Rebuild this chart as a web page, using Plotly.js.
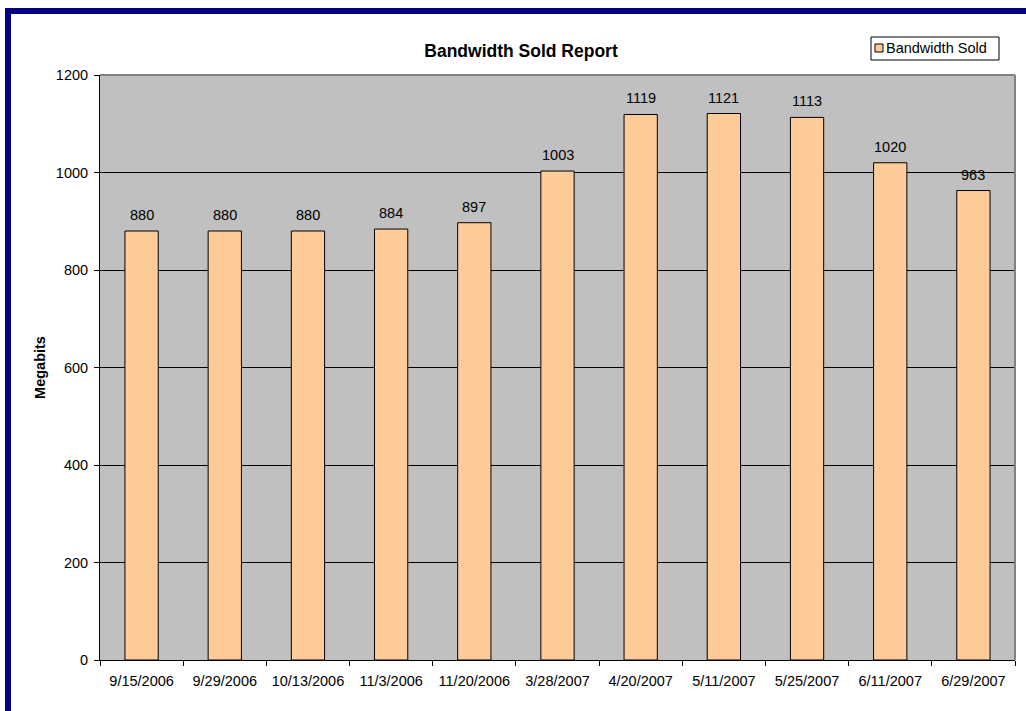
<!DOCTYPE html>
<html>
<head>
<meta charset="utf-8">
<script src="https://cdn.plot.ly/plotly-3.0.1.min.js"></script>
<style>
  html, body { margin: 0; padding: 0; background: #ffffff; }
  #wrap { position: relative; width: 1026px; height: 711px; overflow: hidden; }
  #chart { position: absolute; left: 0; top: 0; width: 1026px; height: 711px; }
  #frame { position: absolute; left: 5px; top: 8px; width: 1040px; height: 720px;
           border-left: 6px solid #000080; border-top: 6px solid #000080; pointer-events: none; }
</style>
</head>
<body>
<div id="wrap">
  <div id="chart"></div>
  <div id="frame"></div>
</div>
<script>
const categories = ["9/15/2006","9/29/2006","10/13/2006","11/3/2006","11/20/2006","3/28/2007","4/20/2007","5/11/2007","5/25/2007","6/11/2007","6/29/2007"];
const bandwidthSold = [880, 880, 880, 884, 897, 1003, 1119, 1121, 1113, 1020, 963];
const seriesName = "Bandwidth Sold";
const chartTitle = "Bandwidth Sold Report";
const yTitle = "Megabits";

const font = "Liberation Sans, Arial, sans-serif";
const barColor = "#FFCC99";

// plot area in pixels: left 100, right 1015, top 75, bottom 660
const px = v => (v - 100) / 915;
const py = v => (660 - v) / 585;

const trace = {
  type: "bar",
  x: categories,
  y: bandwidthSold,
  name: seriesName,
  marker: { color: barColor, line: { color: "#000000", width: 1 } },
  hoverinfo: "x+y",
  showlegend: false
};

const valueLabels = categories.map((c, i) => ({
  x: c, y: bandwidthSold[i], xref: "x", yref: "y",
  text: String(bandwidthSold[i]),
  showarrow: false, xanchor: "center", yanchor: "bottom", yshift: 6,
  font: { family: font, size: 14.5, color: "#000000" }
}));

const legendText = {
  xref: "paper", yref: "paper", x: px(884), y: py(48.5),
  xanchor: "left", yanchor: "middle", showarrow: false,
  text: seriesName, font: { family: font, size: 14.5, color: "#000000" }
};

const layout = {
  width: 1026, height: 711,
  margin: { l: 100, r: 11, t: 75, b: 51 },
  paper_bgcolor: "#ffffff",
  plot_bgcolor: "#C0C0C0",
  font: { family: font, size: 14.5, color: "#000000" },
  bargap: 0.6,
  showlegend: false,
  title: {
    text: "<b>" + chartTitle + "</b>",
    font: { family: font, size: 17.5, color: "#000000" },
    xref: "container", yref: "container",
    x: 521 / 1026, xanchor: "center",
    y: 1 - 51 / 711, yanchor: "middle"
  },
  xaxis: {
    type: "category",
    tickson: "boundaries",
    ticks: "outside", ticklen: 5, tickcolor: "#000000",
    showline: true, linecolor: "#000000", linewidth: 1,
    showgrid: false,
    ticklabelstandoff: 8,
    tickfont: { family: font, size: 14.5, color: "#000000" },
    fixedrange: true
  },
  yaxis: {
    range: [0, 1200], dtick: 200,
    ticks: "outside", ticklen: 5, tickcolor: "#000000",
    showline: true, linecolor: "#000000", linewidth: 1,
    showgrid: true, gridcolor: "#000000", gridwidth: 1,
    zeroline: false,
    ticklabelstandoff: 3,
    tickfont: { family: font, size: 14.5, color: "#000000" },
    title: { text: "<b>" + yTitle + "</b>", font: { family: font, size: 14.5, color: "#000000" }, standoff: 6 },
    fixedrange: true
  },
  annotations: valueLabels.concat([legendText]),
  shapes: [
    { type: "line", xref: "paper", yref: "paper", x0: 0, x1: 1, y0: 1, y1: 1, line: { color: "#808080", width: 2 }, layer: "above" },
    { type: "line", xref: "paper", yref: "paper", x0: 1, x1: 1, y0: 0, y1: 1, line: { color: "#808080", width: 2 }, layer: "above" },
    { type: "rect", xref: "paper", yref: "paper", x0: px(871), x1: px(999), y0: py(60), y1: py(37),
      line: { color: "#000000", width: 1 }, fillcolor: "#ffffff", layer: "above" },
    { type: "rect", xref: "paper", yref: "paper", x0: px(875), x1: px(883), y0: py(52), y1: py(44),
      line: { color: "#000000", width: 1 }, fillcolor: barColor, layer: "above" }
  ]
};

Plotly.newPlot("chart", [trace], layout, { displayModeBar: false, staticPlot: true });
</script>
</body>
</html>
